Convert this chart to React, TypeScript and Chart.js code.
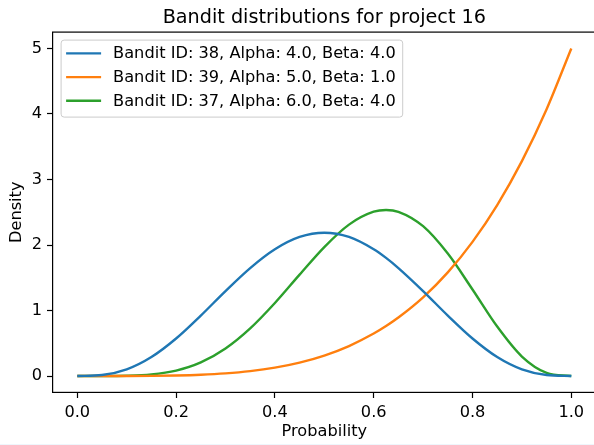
import React, { useEffect, useRef } from "react";
import { Chart, registerables } from "chart.js";

Chart.register(...registerables);

const chartTitle = "Bandit distributions for project 16";
const xLabel = "Probability";
const yLabel = "Density";
const seriesNames = [
  "Bandit ID: 38, Alpha: 4.0, Beta: 4.0",
  "Bandit ID: 39, Alpha: 5.0, Beta: 1.0",
  "Bandit ID: 37, Alpha: 6.0, Beta: 4.0",
];
const seriesColors = ["#1f77b4", "#ff7f0e", "#2ca02c"];

const probability = [0, 0.05, 0.1, 0.15, 0.2, 0.25, 0.3, 0.35, 0.4, 0.45, 0.5, 0.55, 0.6, 0.625, 0.65, 0.7, 0.75, 0.8, 0.85, 0.9, 0.95, 1];
const bandit38 = [0, 0.015, 0.102, 0.29, 0.573, 0.923, 1.297, 1.648, 1.935, 2.123, 2.188, 2.123, 1.935, 1.803, 1.648, 1.297, 0.923, 0.573, 0.29, 0.102, 0.015, 0];
const bandit39 = [0, 0.00003, 0.0005, 0.0025, 0.008, 0.0195, 0.0405, 0.075, 0.128, 0.205, 0.3125, 0.4575, 0.648, 0.763, 0.8925, 1.2005, 1.582, 2.048, 2.61, 3.2805, 4.0725, 5];
const bandit37 = [0, 0.0001, 0.0037, 0.0235, 0.0826, 0.2076, 0.4201, 0.727, 1.1148, 1.5474, 1.9688, 2.3114, 2.5082, 2.5347, 2.5073, 2.2871, 1.8688, 1.3212, 0.7547, 0.2976, 0.0488, 0];
const seriesValues = [bandit38, bandit39, bandit37];

const xTicks = [0, 0.2, 0.4, 0.6, 0.8, 1.0];
const yTicks = [0, 1, 2, 3, 4, 5];

const FONT = "'DejaVu Sans', sans-serif";
const TICK_SIZE = 16.2;
const TITLE_SIZE = 19.2;

const framePlugin = {
  id: "frameAndExtras",
  afterDraw(chart: any) {
    const { ctx, chartArea } = chart;
    ctx.save();
    // frame
    ctx.strokeStyle = "#000";
    ctx.lineWidth = 1.2;
    ctx.strokeRect(chartArea.left, chartArea.top, chartArea.right - chartArea.left, chartArea.bottom - chartArea.top);
    // title
    ctx.fillStyle = "#000";
    ctx.font = `${TITLE_SIZE}px ${FONT}`;
    ctx.textAlign = "center";
    ctx.textBaseline = "alphabetic";
    ctx.fillText(chartTitle, (chartArea.left + chartArea.right) / 2, chartArea.top - 9.5);
    // legend
    ctx.font = `${TICK_SIZE}px ${FONT}`;
    const labels = chart.data.datasets.map((d: any) => d.label as string);
    const textW = Math.max(...labels.map((l: string) => ctx.measureText(l).width));
    const bx = chartArea.left + 8.5;
    const by = chartArea.top + 8;
    const bw = 52 + textW + 7;
    const bh = 77;
    const r = 3;
    ctx.beginPath();
    ctx.moveTo(bx + r, by);
    ctx.lineTo(bx + bw - r, by);
    ctx.arcTo(bx + bw, by, bx + bw, by + r, r);
    ctx.lineTo(bx + bw, by + bh - r);
    ctx.arcTo(bx + bw, by + bh, bx + bw - r, by + bh, r);
    ctx.lineTo(bx + r, by + bh);
    ctx.arcTo(bx, by + bh, bx, by + bh - r, r);
    ctx.lineTo(bx, by + r);
    ctx.arcTo(bx, by, bx + r, by, r);
    ctx.closePath();
    ctx.fillStyle = "rgba(255,255,255,0.8)";
    ctx.fill();
    ctx.strokeStyle = "#cccccc";
    ctx.lineWidth = 1;
    ctx.stroke();
    ctx.textAlign = "left";
    ctx.textBaseline = "middle";
    chart.data.datasets.forEach((ds: any, i: number) => {
      const y = by + 13.3 + i * 23.7;
      ctx.strokeStyle = ds.borderColor;
      ctx.lineWidth = 2.4;
      ctx.beginPath();
      ctx.moveTo(bx + 5, y);
      ctx.lineTo(bx + 40, y);
      ctx.stroke();
      ctx.fillStyle = "#000";
      ctx.fillText(ds.label, bx + 52, y + 0.5);
    });
    ctx.restore();
  },
};

export default function App() {
  const ref = useRef<HTMLCanvasElement | null>(null);
  useEffect(() => {
    if (!ref.current) return;
    const chart = new Chart(ref.current, {
      type: "line",
      data: {
        datasets: seriesNames.map((name, i) => ({
          label: name,
          data: probability.map((x, j) => ({ x, y: seriesValues[i][j] })),
          borderColor: seriesColors[i],
          backgroundColor: seriesColors[i],
          borderWidth: 2.4,
          pointRadius: 0,
          cubicInterpolationMode: "monotone" as const,
          fill: false,
        })),
      },
      options: {
        animation: false,
        responsive: false,
        maintainAspectRatio: false,
        layout: { padding: { top: 32.1, left: 0, right: 0, bottom: 0 } },
        plugins: {
          legend: { display: false },
          title: { display: false },
          tooltip: { enabled: false },
        },
        scales: {
          x: {
            type: "linear",
            min: -0.05,
            max: 1.05,
            afterBuildTicks: (s: any) => {
              s.ticks = xTicks.map((v) => ({ value: v }));
            },
            afterFit: (s: any) => {
              s.height = 52.6;
            },
            grid: { drawOnChartArea: false, drawTicks: true, tickLength: 5.6, tickColor: "#000", tickWidth: 1.2 },
            border: { display: false },
            ticks: {
              color: "#000",
              font: { family: FONT, size: TICK_SIZE },
              padding: 5,
              maxRotation: 0,
              autoSkip: false,
              callback: (v: any) => Number(v).toFixed(1),
            },
            title: {
              display: true,
              text: xLabel,
              color: "#000",
              font: { family: FONT, size: TICK_SIZE },
              padding: { top: 0, bottom: 3 },
            },
          },
          y: {
            type: "linear",
            min: -0.25,
            max: 5.25,
            afterBuildTicks: (s: any) => {
              s.ticks = yTicks.map((v) => ({ value: v }));
            },
            afterFit: (s: any) => {
              s.width = 52.6;
            },
            grid: { drawOnChartArea: false, drawTicks: true, tickLength: 5.6, tickColor: "#000", tickWidth: 1.2 },
            border: { display: false },
            ticks: {
              color: "#000",
              font: { family: FONT, size: TICK_SIZE },
              padding: 5,
              autoSkip: false,
              callback: (v: any) => String(v),
            },
            title: {
              display: true,
              text: yLabel,
              color: "#000",
              font: { family: FONT, size: TICK_SIZE },
              padding: { top: 7.4, bottom: 0 },
            },
          },
        },
      },
      plugins: [framePlugin],
    });
    return () => chart.destroy();
  }, []);
  return (
    <div
      style={{
        position: "fixed",
        left: 0,
        top: 0,
        width: 594,
        height: 445,
        overflow: "hidden",
        background: "#fff",
      }}
    >
      <canvas ref={ref} width={596} height={445} style={{ display: "block", width: 596, height: 445 }} />
      <div style={{ position: "absolute", left: 0, bottom: 0, width: 594, height: 1, background: "#eef6fc" }} />
    </div>
  );
}
